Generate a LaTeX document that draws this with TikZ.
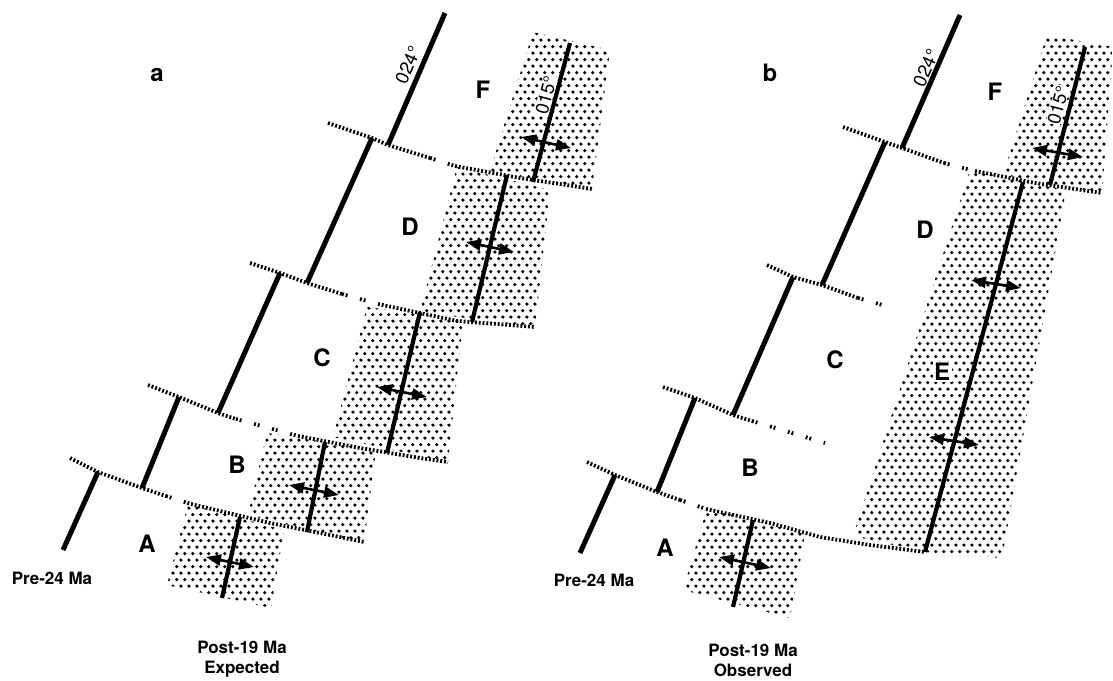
\documentclass[tikz,border=0pt]{standalone}
\usepackage{fontspec}
\setmainfont{TeX Gyre Heros}
\usetikzlibrary{arrows.meta,patterns}
\pgfdeclarepatternformonly{stip}{\pgfqpoint{0pt}{0pt}}{\pgfqpoint{7.8pt}{13.4pt}}{\pgfqpoint{7.8pt}{13.4pt}}{%
  \pgfpathcircle{\pgfqpoint{2pt}{2pt}}{1.85pt}%
  \pgfpathcircle{\pgfqpoint{5.9pt}{8.7pt}}{1.85pt}\pgfusepath{fill}}
\tikzset{
  stipple/.style={pattern=stip, pattern color=black},
  oldridge/.style={line width=5pt},
  newridge/.style={line width=4.2pt},
  fz/.style={line width=3.8pt, dash pattern=on 1.9pt off 1.9pt},
  fzsparse/.style={line width=3.8pt, dash pattern=on 1.9pt off 1.9pt on 1.9pt off 13pt},
  spread/.style={line width=2.6pt, {Triangle[length=15pt,width=11pt]}-{Triangle[length=15pt,width=11pt]}},
  seg/.style={font=\bfseries\fontsize{24}{24}\selectfont, inner sep=0pt},
  segw/.style={seg, fill=white, inner sep=1.5pt},
  panellabel/.style={font=\bfseries\fontsize{24}{24}\selectfont, anchor=base, inner sep=0pt},
  captext/.style={font=\bfseries\fontsize{17}{20}\selectfont, align=center, inner sep=0pt},
  azim/.style={font=\fontsize{18.5}{18.5}\selectfont, inner sep=0.6pt},
}
\begin{document}
\begin{tikzpicture}[x=1pt, y=-1pt]
\useasboundingbox (0,0) rectangle (1113,680);

% ---------------- panel a : stippled post-19 Ma crust ----------------
\fill[stipple] (533,32) -- (610,50) -- (592,189) -- (490,171) -- cycle;   % F
\fill[stipple] (457,167) -- (550,190) -- (535,327) -- (420,312) -- cycle; % D
\fill[stipple] (367,307) -- (463,320) -- (448,462) -- (333,437) -- cycle; % C
\fill[stipple] (267,433) -- (376,450) -- (364,543) -- (248,515) -- cycle; % B
\fill[stipple] (188,504) -- (284,530) -- (271,608) -- (167,585) -- cycle; % A

% ---------------- panel b : stippled post-19 Ma crust ----------------
\fill[stipple] (1047,35) -- (1113,47) -- (1102,193) -- (1003,175) -- cycle; % F
\fill[stipple] (970,170) -- (1066,190) -- (1002,558) -- (925,552) -- (853,536) -- cycle; % E
\fill[stipple] (707,508) -- (805,534) -- (790,618) -- (683,590) -- cycle; % A

% ---------------- panel a : fracture zones ----------------
\draw[fz] (328,123) -- (372,138) -- (388,145) -- (430,158);
\draw[fzsparse] (430,158) -- (455,166);
\draw[fz] (455,166) -- (520,178) -- (573,186) -- (592,189);

\draw[fz] (250,263) -- (280,273) -- (307,283) -- (342,294);
\draw[fzsparse] (342,294) -- (378,304);
\draw[fz] (378,304) -- (420,313) -- (457,321) -- (497,324) -- (535,327);

\draw[fz] (148,385) -- (179,397) -- (218,413) -- (236,419);
\draw[fzsparse] (236,419) -- (298,436);
\draw[fz] (298,436) -- (360,448) -- (420,458) -- (448,462);

\draw[fz] (70,458) -- (98,472) -- (142,488) -- (166,496);
\draw[fzsparse] (166,496) -- (191,504);
\draw[fz] (191,504) -- (270,523) -- (340,537) -- (364,542);

% ---------------- panel b : fracture zones ----------------
\draw[fz] (843,127) -- (885,142) -- (902,148) -- (944,163);
\draw[fzsparse] (944,163) -- (975,171);
\draw[fz] (975,171) -- (1035,183) -- (1102,193);

\draw[fz] (767,265) -- (793,277) -- (822,285) -- (858,298);
\draw[fzsparse] (858,298) -- (893,308);

\draw[fz] (663,387) -- (695,398) -- (733,415) -- (752,421);
\draw[fzsparse] (752,421) -- (825,443);

\draw[fz] (587,462) -- (615,475) -- (657,492) -- (680,500);
\draw[fzsparse] (680,500) -- (706,509);
\draw[fz] (706,509) -- (770,523) -- (820,537) -- (870,545) -- (925,552);

% ---------------- panel a : pre-24 Ma ridge (024) ----------------
\draw[oldridge] (445,13) -- (388,145);
\draw[oldridge] (372,138) -- (307,283);
\draw[oldridge] (280,273) -- (218,413);
\draw[oldridge] (179,397) -- (142,488);
\draw[oldridge] (98,472) -- (63,550);

% ---------------- panel b : pre-24 Ma ridge (024) ----------------
\draw[oldridge] (960,15) -- (902,148);
\draw[oldridge] (885,142) -- (822,285);
\draw[oldridge] (793,277) -- (733,415);
\draw[oldridge] (695,398) -- (657,492);
\draw[oldridge] (615,475) -- (580,553);

% ---------------- panel a : post-19 Ma ridge (015) ----------------
\draw[newridge] (570,43) -- (533,182);
\draw[newridge] (507,175) -- (472,322);
\draw[newridge] (420,312) -- (387,453);
\draw[newridge] (325,442) -- (307,532);
\draw[newridge] (240,517) -- (222,598);

% ---------------- panel b : post-19 Ma ridge (015) ----------------
\draw[newridge] (1085,47) -- (1050,185);
\draw[newridge] (1023,182) -- (925,552);
\draw[newridge] (753,520) -- (733,607);

% ---------------- spreading arrows ----------------
\draw[spread] (521,137) -- (571,148);
\draw[spread] (466,242) -- (514,252);
\draw[spread] (377,387) -- (427,397);
\draw[spread] (289,485) -- (339,495);
\draw[spread] (206,557) -- (254,567);

\draw[spread] (1032,148) -- (1083,157);
\draw[spread] (971,280) -- (1021,288);
\draw[spread] (929,437) -- (979,445);
\draw[spread] (719,557) -- (771,568);

% ---------------- labels panel a ----------------
\node[panellabel] (la) at (157,81) {a};
\node[azim, rotate=66] (az1) at (408,65) {024°};
\node[azim, rotate=75, fill=white] (az2) at (546,95) {015°};
\node[seg] (lFa) at (483,90) {F};
\node[seg] (lDa) at (410,227) {D};
\node[seg] (lCa) at (322,358) {C};
\node[seg] (lBa) at (237,465) {B};
\node[seg] (lAa) at (147,544) {A};
\node[captext] (prea) at (52,578) {Pre-24 Ma};
\node[captext] (posta) at (242,659) {Post-19 Ma\\Expected};

% ---------------- labels panel b ----------------
\node[panellabel] (lb) at (770,81) {b};
\node[azim, rotate=66] (bz1) at (926,68) {024°};
\node[azim, rotate=75, fill=white] (bz2) at (1058,105) {015°};
\node[seg] (lFb) at (995,92) {F};
\node[seg] (lDb) at (925,230) {D};
\node[seg] (lCb) at (835,360) {C};
\node[segw] (lEb) at (942,372) {E};
\node[seg] (lBb) at (750,468) {B};
\node[seg] (lAb) at (665,548) {A};
\node[captext] (preb) at (594,580) {Pre-24 Ma};
\node[captext] (postb) at (753,660) {Post-19 Ma\\Observed};
\end{tikzpicture}
\end{document}
